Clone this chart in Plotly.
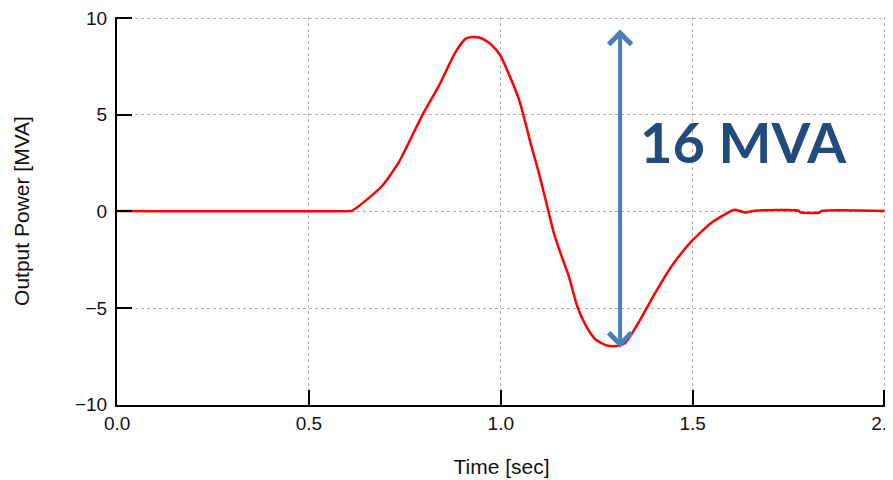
import plotly.graph_objects as go

time_s = [0.0, 0.609, 0.613, 0.647, 0.691, 0.734, 0.795, 0.839, 0.882, 0.908, 0.925, 0.943,
          0.960, 0.977, 0.999, 1.021, 1.047, 1.064, 1.077, 1.099, 1.125, 1.138, 1.155,
          1.177, 1.199, 1.220, 1.247, 1.273, 1.294, 1.310, 1.325, 1.359, 1.403, 1.446, 1.498,
          1.550, 1.602, 1.611, 1.637, 1.663, 1.776, 1.781, 1.831, 1.836, 2.0]
power_mva = [0.03, 0.03, 0.05, 0.55, 1.33, 2.54, 4.96, 6.51, 8.24, 8.93, 9.02, 9.0,
             8.85, 8.59, 8.07, 7.11, 5.82, 4.61, 3.58, 2.02, -0.05, -1.09, -2.12,
             -3.33, -4.89, -5.84, -6.62, -6.91, -6.97, -6.93, -6.79, -5.75, -4.20, -2.81, -1.52,
             -0.57, 0.04, 0.09, -0.05, 0.04, 0.04, -0.05, -0.05, 0.03, 0.03]

x_ticks = [0.0, 0.5, 1.0, 1.5, 2.0]
x_tick_labels = ["0.0", "0.5", "1.0", "1.5", "2.0"]
y_ticks = [-10, -5, 0, 5, 10]
y_tick_labels = ["\u221210", "\u22125", "0", "5", "10"]

arrow_x = 1.311
arrow_top = 9.41
arrow_bottom = -7.13
label_text = "16 MVA"
label_pos = (1.633, 3.6)

fig = go.Figure()
fig.add_trace(go.Scatter(x=time_s, y=power_mva, mode="lines",
                         line=dict(color="#ff0000", width=2.5, shape="spline", smoothing=0.6),
                         showlegend=False, cliponaxis=False))

fig.add_annotation(x=arrow_x, y=arrow_top, ax=arrow_x, ay=arrow_bottom,
                   xref="x", yref="y", axref="x", ayref="y", text="",
                   showarrow=True, arrowhead=4, startarrowhead=4,
                   arrowside="end+start", arrowsize=1.1, startarrowsize=1.1,
                   arrowwidth=4, arrowcolor="#4a7ebb")
fig.add_annotation(x=label_pos[0], y=label_pos[1], xref="x", yref="y",
                   text="<b>" + label_text + "</b>", showarrow=False,
                   xanchor="center", yanchor="middle",
                   font=dict(family="Lato", size=56, color="#234a7c"))

axis_common = dict(showline=True, linecolor="black", linewidth=2,
                   ticks="inside", ticklen=15, tickwidth=2, tickcolor="black",
                   showgrid=True, gridcolor="#b0b0b0", griddash="dot", gridwidth=1,
                   zeroline=False, mirror=False, automargin=False,
                   ticklabeloverflow="allow",
                   tickfont=dict(family="Liberation Sans", size=19, color="#111"))

fig.update_xaxes(range=[-0.0002, 2.004], tickvals=x_ticks, ticktext=x_tick_labels,
                 title=dict(text="Time [sec]", standoff=27,
                            font=dict(family="Liberation Sans", size=21, color="#111")),
                 ticklabelstandoff=0, **axis_common)
fig.update_yaxes(range=[-10.01, 10.06], tickvals=y_ticks, ticktext=y_tick_labels,
                 title=dict(text="Output Power [MVA]", standoff=40,
                            font=dict(family="Liberation Sans", size=21, color="#111")),
                 ticklabelstandoff=4, **axis_common)

# page body has an 8px margin, so the figure is sized to fit the 893x480 window
fig.update_layout(width=885, height=472, margin=dict(l=109, r=7, t=9, b=75),
                  plot_bgcolor="white", paper_bgcolor="white")

fig.write_html("out.html")
